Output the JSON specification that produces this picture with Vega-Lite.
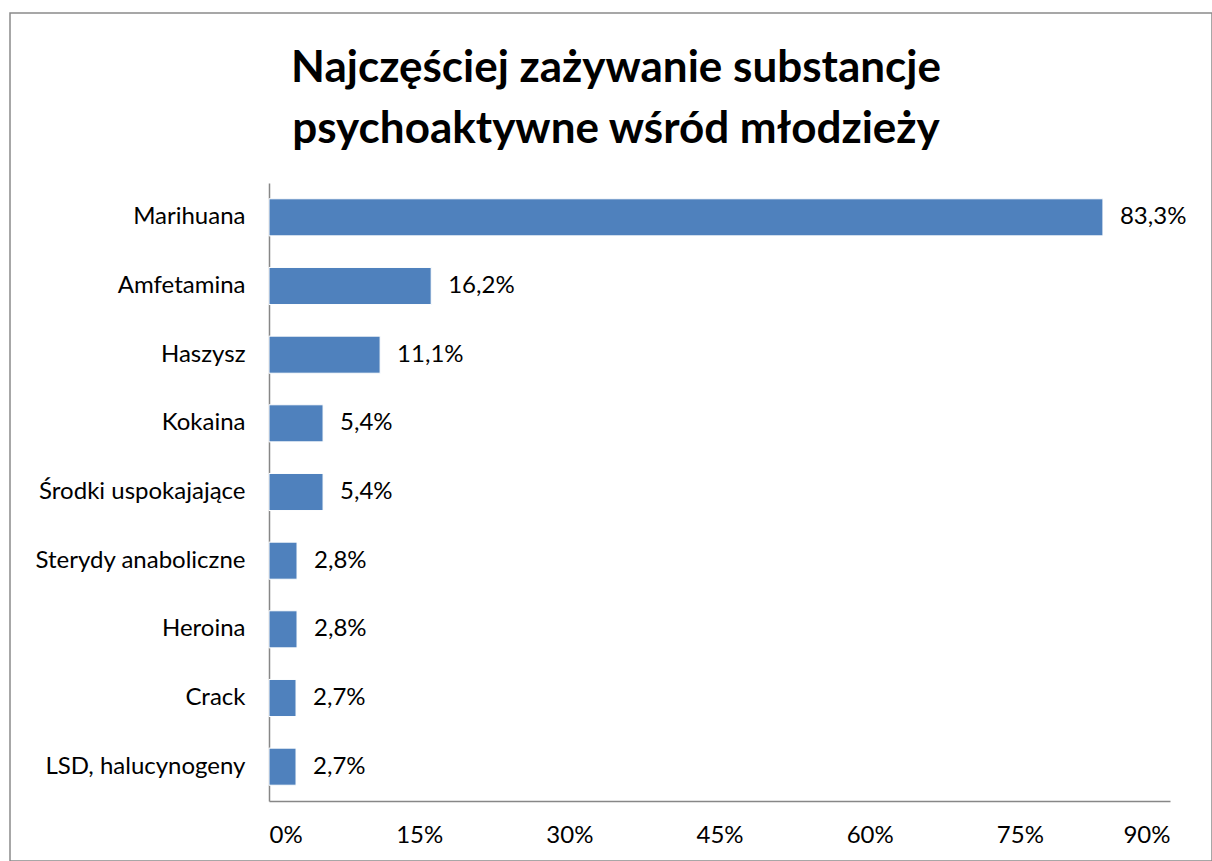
{
  "$schema": "https://vega.github.io/schema/vega-lite/v6.json",
  "autosize": {"type": "none"},
  "padding": {"left": 10, "top": 13, "right": 0, "bottom": 0},
  "width": 1202,
  "height": 848,
  "background": "white",
  "config": {
    "locale": {"number": {"decimal": ",", "thousands": " ", "grouping": [3], "currency": ["", " zł"]}},
    "view": {"stroke": "#8a8a8a", "strokeWidth": 1.5},
    "font": "Lato"
  },
  "title": {
    "text": ["Najczęściej zażywanie substancje", "psychoaktywne wśród młodzieży"],
    "anchor": "middle",
    "frame": "group",
    "baseline": "top",
    "offset": -30,
    "dx": 5,
    "dy": 109,
    "lineHeight": 61,
    "fontSize": 44,
    "fontWeight": "bold",
    "font": "Lato",
    "color": "black"
  },
  "data": {
    "values": [
      {"substancja": "Marihuana", "odsetek": 0.833},
      {"substancja": "Amfetamina", "odsetek": 0.162},
      {"substancja": "Haszysz", "odsetek": 0.111},
      {"substancja": "Kokaina", "odsetek": 0.054},
      {"substancja": "Środki uspokajające", "odsetek": 0.054},
      {"substancja": "Sterydy anaboliczne", "odsetek": 0.028},
      {"substancja": "Heroina", "odsetek": 0.028},
      {"substancja": "Crack", "odsetek": 0.027},
      {"substancja": "LSD, halucynogeny", "odsetek": 0.027}
    ]
  },
  "encoding": {
    "y": {
      "field": "substancja",
      "type": "nominal",
      "sort": null,
      "scale": {"range": [170, 788], "paddingInner": 0.46, "paddingOuter": 0.23},
      "axis": {
        "title": null,
        "offset": -259,
        "ticks": false,
        "domainColor": "#878787",
        "domainWidth": 1.5,
        "labelFontSize": 24,
        "labelColor": "black",
        "labelPadding": 24,
        "labelLimit": 400,
        "labelFont": "Lato"
      }
    },
    "x": {
      "field": "odsetek",
      "type": "quantitative",
      "scale": {"domain": [0, 0.9], "range": [259, 1160], "nice": false, "zero": true},
      "axis": {
        "title": null,
        "offset": -60,
        "values": [0, 0.15, 0.3, 0.45, 0.6, 0.75, 0.9],
        "format": ".0%",
        "grid": false,
        "ticks": false,
        "domainColor": "#878787",
        "domainWidth": 1.5,
        "labelFontSize": 24,
        "labelColor": "black",
        "labelPadding": 22,
        "labelFont": "Lato"
      }
    }
  },
  "layer": [
    {
      "mark": {"type": "bar", "color": "#4F81BD", "stroke": "white", "strokeWidth": 1}
    },
    {
      "mark": {"type": "text", "align": "left", "baseline": "middle", "dx": 17, "fontSize": 24, "color": "black", "font": "Lato"},
      "encoding": {"text": {"field": "odsetek", "type": "quantitative", "format": ".1%"}}
    }
  ]
}
